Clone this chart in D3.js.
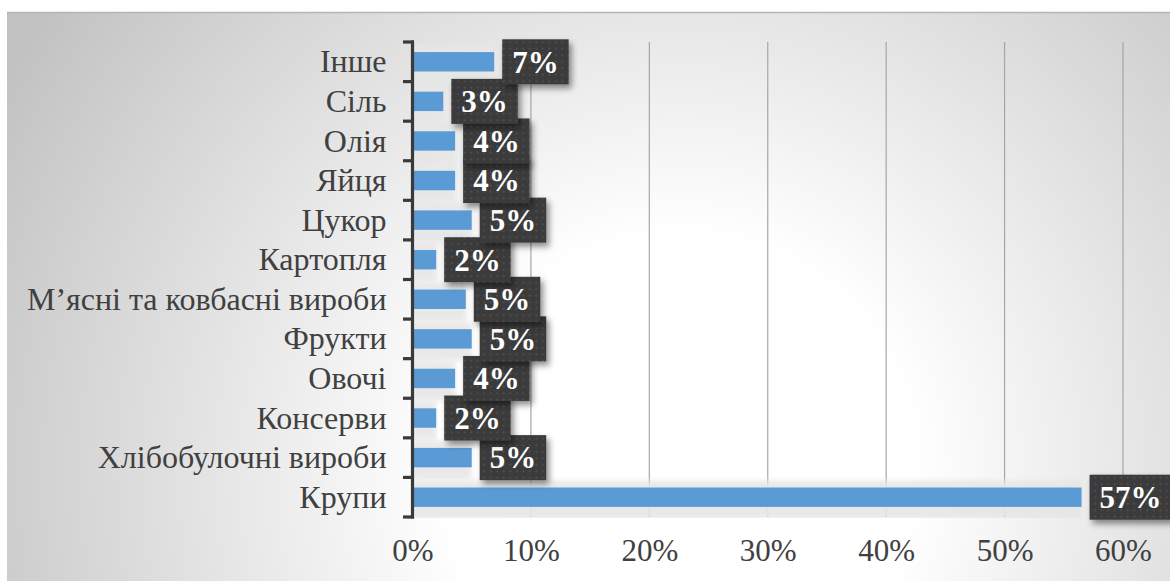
<!DOCTYPE html>
<html>
<head>
    <meta charset="utf-8">
    <title>Структура продуктів</title>
    <script src="https://cdn.jsdelivr.net/npm/d3@7/dist/d3.min.js"></script>
    <style>
        body {
            margin: 0;
            background: #ffffff;
            font-family: "Liberation Serif", "Times New Roman", serif;
        }
    </style>
</head>
<body>
    <svg id="visSvg"></svg>
<script>
    // Data (top to bottom)
    let categories = ["Інше", "Сіль", "Олія", "Яйця", "Цукор", "Картопля",
        "М’ясні та ковбасні вироби", "Фрукти", "Овочі", "Консерви",
        "Хлібобулочні вироби", "Крупи"];
    let values = [0.069, 0.026, 0.036, 0.036, 0.050, 0.020, 0.045, 0.050, 0.036, 0.020, 0.050, 0.565];
    let labels = ["7%", "3%", "4%", "4%", "5%", "2%", "5%", "5%", "4%", "2%", "5%", "57%"];
    let ticks = [0, 0.1, 0.2, 0.3, 0.4, 0.5, 0.6];

    /* Layout constants */
    let width = 1170,
        height = 581,
        plot = { left: 412.5, right: 1123, top: 42, bottom: 517 };
    let serif = "'Liberation Serif', 'Times New Roman', serif";

    let svg = d3.select("#visSvg")
        .attr("width", width)
        .attr("height", height);

    let defs = svg.append("defs");

    // background gradient of the chart area
    let bg = defs.append("radialGradient")
        .attr("id", "bgGrad")
        .attr("gradientUnits", "userSpaceOnUse")
        .attr("cx", 680).attr("cy", 470).attr("r", 780);
    bg.append("stop").attr("offset", 0).attr("stop-color", "#ffffff");
    bg.append("stop").attr("offset", 0.3).attr("stop-color", "#ffffff");
    bg.append("stop").attr("offset", 1).attr("stop-color", "#c2c2c2");

    // dotted pattern for the label boxes
    let pat = defs.append("pattern")
        .attr("id", "dots")
        .attr("patternUnits", "userSpaceOnUse")
        .attr("width", 6.5).attr("height", 6.5);
    pat.append("rect").attr("width", 6.5).attr("height", 6.5).attr("fill", "#3b3b3b");
    pat.append("circle").attr("cx", 3.25).attr("cy", 3.25).attr("r", 0.9).attr("fill", "#575757");

    let shadow = defs.append("filter")
        .attr("id", "boxShadow")
        .attr("x", "-20%").attr("y", "-30%").attr("width", "150%").attr("height", "170%");
    shadow.append("feDropShadow")
        .attr("dx", 3).attr("dy", 4).attr("stdDeviation", 3)
        .attr("flood-color", "#000").attr("flood-opacity", 0.45);

    let soft = defs.append("filter").attr("id", "soft")
        .attr("x", "-5%").attr("y", "-50%").attr("width", "110%").attr("height", "200%");
    soft.append("feGaussianBlur").attr("stdDeviation", 2.5);

    defs.append("clipPath").attr("id", "plotClip")
        .append("rect")
        .attr("x", plot.left).attr("y", plot.top)
        .attr("width", width - plot.left).attr("height", plot.bottom - plot.top + 1);

    svg.append("rect")
        .attr("x", 7).attr("y", 12)
        .attr("width", width - 7).attr("height", height - 12)
        .attr("fill", "url(#bgGrad)");
    svg.append("line")
        .attr("x1", 7).attr("x2", width).attr("y1", 12.5).attr("y2", 12.5)
        .attr("stroke", "#b5b5b5").attr("stroke-width", 1.5);

    /* Scales */
    let x = d3.scaleLinear().domain([0, 0.6]).range([plot.left, plot.right]);
    let y = d3.scaleBand().domain(categories).range([plot.top, plot.bottom]).paddingInner(0.51).paddingOuter(0.255);
    let band = d3.scaleBand().domain(categories).range([plot.top, plot.bottom]);

    // vertical grid lines
    svg.append("g")
        .selectAll("line")
        .data(ticks.slice(1))
        .join("line")
        .attr("x1", d => x(d)).attr("x2", d => x(d))
        .attr("y1", plot.top).attr("y2", plot.bottom)
        .attr("stroke", "#a6a6a6")
        .attr("stroke-width", 1.2);

    // soft light bands behind bars
    svg.append("g")
        .attr("clip-path", "url(#plotClip)")
        .selectAll("rect")
        .data(categories)
        .join("rect")
        .attr("x", plot.left)
        .attr("y", d => y(d) - 7)
        .attr("width", (d, i) => x(values[i]) - plot.left)
        .attr("height", y.bandwidth() + 19)
        .attr("fill", "#e6e6e6")
        .attr("opacity", 0.9)
        .attr("filter", "url(#soft)");

    // bars
    svg.append("g")
        .selectAll("rect")
        .data(categories)
        .join("rect")
        .attr("x", plot.left)
        .attr("y", d => y(d))
        .attr("width", (d, i) => x(values[i]) - plot.left)
        .attr("height", y.bandwidth())
        .attr("fill", "#5b9bd5");

    // category axis
    let yAxis = d3.axisLeft(band).tickSize(0).tickPadding(26);
    let yg = svg.append("g")
        .attr("transform", `translate(${plot.left},0)`)
        .call(yAxis);
    yg.select(".domain").remove();
    yg.selectAll("text")
        .style("font-family", serif)
        .attr("font-size", 32)
        .attr("fill", "#404040")
        .attr("dy", "0.33em");

    // axis line with tick marks at band boundaries
    let bounds = categories.map(d => band(d)).concat([plot.bottom]);
    svg.append("line")
        .attr("x1", 412.5).attr("x2", 412.5)
        .attr("y1", plot.top - 1.5).attr("y2", plot.bottom + 1.5)
        .attr("stroke", "#3a3a3a").attr("stroke-width", 3.2);
    svg.append("g")
        .selectAll("line")
        .data(bounds)
        .join("line")
        .attr("x1", 403).attr("x2", 414)
        .attr("y1", d => d).attr("y2", d => d)
        .attr("stroke", "#3a3a3a").attr("stroke-width", 3.2);

    // x axis labels
    let xAxis = d3.axisBottom(x).tickValues(ticks).tickFormat(d3.format(".0%")).tickSize(0).tickPadding(22);
    let xg = svg.append("g")
        .attr("transform", `translate(0,${plot.bottom})`)
        .call(xAxis);
    xg.select(".domain").remove();
    xg.selectAll("text")
        .style("font-family", serif)
        .attr("font-size", 31)
        .attr("fill", "#404040");

    // data labels, drawn bottom to top so upper boxes lie on top
    let lg = svg.append("g");
    let order = d3.range(categories.length).reverse();
    for (let i of order) {
        let cy = band(categories[i]) + band.bandwidth() / 2;
        let bx = x(values[i]) + 8;
        let g = lg.append("g");
        let box = g.append("rect")
            .attr("fill", "url(#dots)")
            .attr("filter", "url(#boxShadow)");
        let t = g.append("text")
            .attr("x", bx + 10)
            .attr("y", cy)
            .attr("dy", "0.35em")
            .style("font-family", serif)
            .attr("font-weight", "bold")
            .attr("font-size", 31)
            .attr("fill", "#ffffff")
            .text(labels[i]);
        let w = t.node().getComputedTextLength();
        box.attr("x", bx).attr("y", cy - 22.5)
            .attr("width", w + 20).attr("height", 45);
    }
</script>
</body>
</html>
